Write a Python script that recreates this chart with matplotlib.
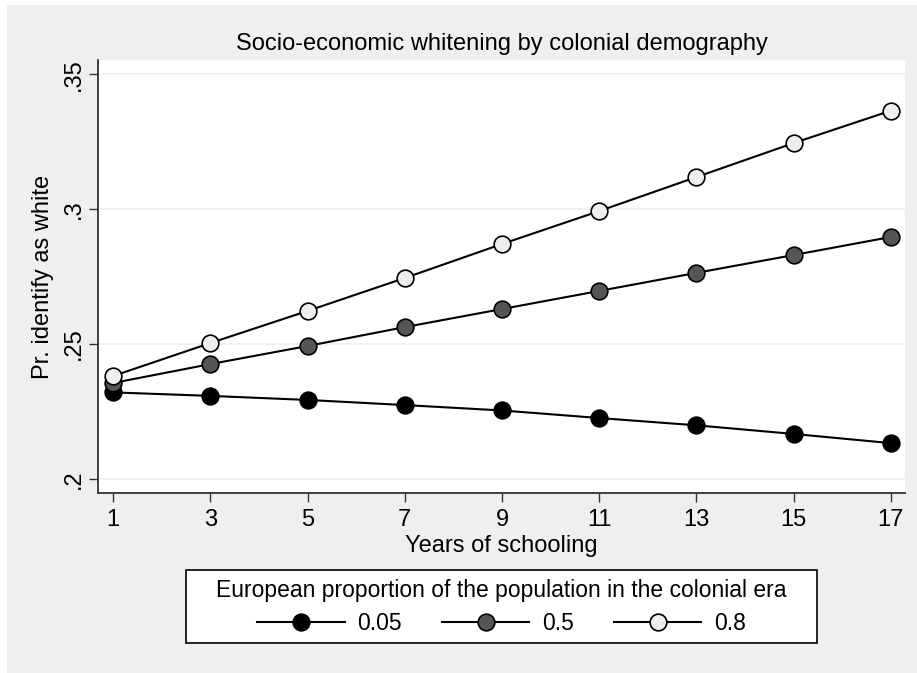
import matplotlib
matplotlib.use("Agg")
import matplotlib.pyplot as plt
from matplotlib.patches import Rectangle

plt.rcParams['font.family'] = ['Liberation Sans', 'DejaVu Sans']

years = [1, 3, 5, 7, 9, 11, 13, 15, 17]
share_005 = [0.2321, 0.2308, 0.2293, 0.2274, 0.2254, 0.2226, 0.2199, 0.2167, 0.2133]
share_05 = [0.2356, 0.2426, 0.2493, 0.2563, 0.2630, 0.2697, 0.2764, 0.2830, 0.2897]
share_08 = [0.2382, 0.2504, 0.2623, 0.2745, 0.2871, 0.2993, 0.3119, 0.3245, 0.3365]
series_labels = ["0.05", "0.5", "0.8"]
y_ticks = [0.2, 0.25, 0.3, 0.35]
y_tick_labels = [".2", ".25", ".3", ".35"]

FS = 17
W, H = 917, 673
fig = plt.figure(figsize=(W / 100, H / 100), dpi=100)
fig.patch.set_facecolor("white")
fig.add_artist(Rectangle((7 / W, 0), 1.01 - 7 / W, 1 - 5 / H, transform=fig.transFigure,
                         facecolor="#efefef", edgecolor="none", zorder=0))

ax = fig.add_axes([98 / W, 1 - 493.3 / H, (905 - 98) / W, (493.3 - 60) / H])
ax.set_facecolor("white")

fills = ["#000000", "#555555", "#eeeeee"]
for vals, fc, lab in zip([share_005, share_05, share_08], fills, series_labels):
    ax.plot(years, vals, color="black", lw=1.5, marker="o", markersize=12,
            markerfacecolor=fc, markeredgecolor="black", markeredgewidth=1.2,
            label=lab, zorder=3)

ax.set_xlim(0.685, 17.294)
ax.set_ylim(0.1947, 0.3553)
ax.set_xticks(years)
ax.set_yticks(y_ticks)
ax.set_yticklabels(y_tick_labels, rotation=90, va="center")
ax.grid(axis="y", color="#eaf2f3", lw=1.3, zorder=0)
ax.set_axisbelow(True)
for s in ["top", "right"]:
    ax.spines[s].set_visible(False)
for s in ["left", "bottom"]:
    ax.spines[s].set_color("#333333")
    ax.spines[s].set_linewidth(1.3)
ax.tick_params(axis="both", direction="out", length=6.5, width=1.0, color="#333333",
               labelsize=FS, pad=3)
ax.tick_params(axis="x", pad=5)

ax.set_xlabel("Years of schooling", fontsize=FS, labelpad=3)
ax.set_ylabel("Pr. identify as white", fontsize=FS, labelpad=6)
ax.set_title("Socio-economic whitening by colonial demography", fontsize=FS, pad=7)

# legend frame drawn separately so it can be wider than the legend contents
fig.add_artist(Rectangle((186 / W, 1 - 643 / H), (817 - 186) / W, (643 - 570) / H,
                         transform=fig.transFigure, facecolor="white",
                         edgecolor="black", linewidth=1.2, zorder=1))
leg = fig.legend(loc="center", bbox_to_anchor=(501.5 / W, 1 - 607 / H), ncol=3,
                 title="European proportion of the population in the colonial era",
                 fontsize=16.5, title_fontsize=16.5, frameon=False,
                 handlelength=3.8, columnspacing=1.76,
                 borderpad=0.0, handletextpad=0.55, labelspacing=0.2,
                 borderaxespad=0)
leg.set_zorder(2)
leg._legend_box.sep = 7

fig.savefig("out.png", dpi=100, facecolor=fig.get_facecolor())
